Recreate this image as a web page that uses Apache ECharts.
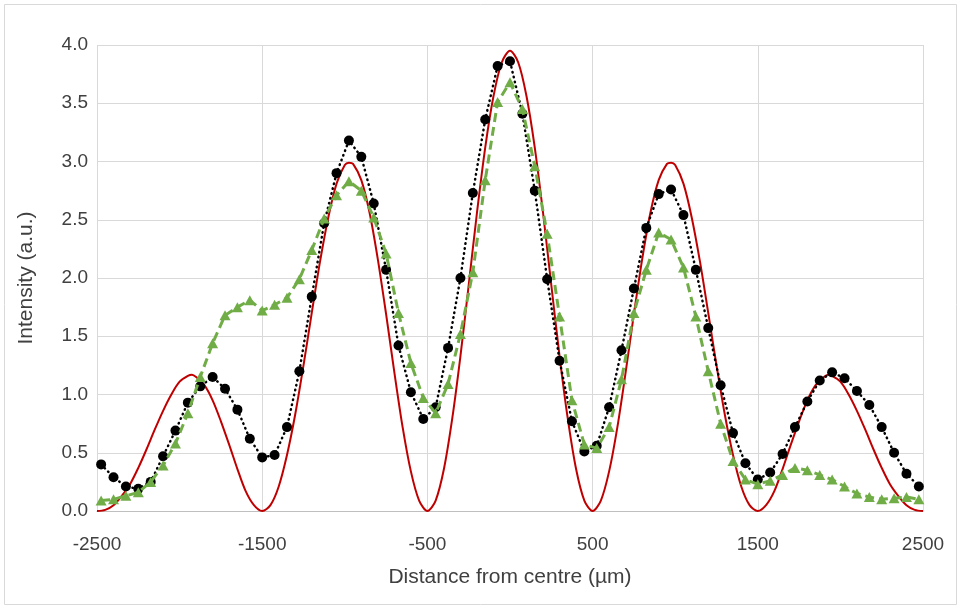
<!DOCTYPE html>
<html>
<head>
<meta charset="utf-8">
<script src="https://cdn.jsdelivr.net/npm/echarts@6/dist/echarts.min.js"></script>
<style>
html,body{margin:0;padding:0;background:#fff;}
#chart{width:961px;height:609px;}
</style>
</head>
<body>
<div id="chart"></div>
<script>
// Sample positions (µm) of the measured points
var samplePositions = [-2475,-2400,-2325,-2250,-2175,-2100,-2025,-1950,-1875,-1800,-1725,-1650,-1575,-1500,
  -1425,-1350,-1275,-1200,-1125,-1050,-975,-900,-825,-750,-675,-600,-525,
  -450,-375,-300,-225,-150,-75,0,75,150,225,300,375,450,
  525,600,675,750,825,900,975,1050,1125,1200,1275,1350,1425,
  1500,1575,1650,1725,1800,1875,1950,2025,2100,2175,2250,2325,2400,2475];

// Black dotted series (circles)
var blackValues = [0.40,0.29,0.21,0.19,0.25,0.47,0.69,0.93,1.07,1.15,1.05,0.87,0.62,0.46,
  0.48,0.72,1.20,1.84,2.47,2.90,3.18,3.04,2.64,2.07,1.42,1.02,0.79,
  0.89,1.40,2.00,2.73,3.36,3.82,3.86,3.41,2.75,1.99,1.29,0.77,0.51,
  0.56,0.89,1.38,1.91,2.43,2.72,2.76,2.54,2.07,1.57,1.08,0.67,0.41,
  0.27,0.33,0.49,0.72,0.94,1.12,1.19,1.14,1.03,0.91,0.72,0.50,0.32,0.21];

// Green dashed series (triangles)
var greenValues = [0.09,0.10,0.13,0.16,0.25,0.39,0.58,0.84,1.15,1.44,1.68,1.75,1.81,1.72,
  1.77,1.83,1.99,2.24,2.51,2.71,2.83,2.75,2.52,2.21,1.70,1.27,0.97,
  0.84,1.09,1.52,2.05,2.84,3.51,3.68,3.45,2.96,2.38,1.67,0.95,0.57,
  0.54,0.72,1.13,1.70,2.07,2.39,2.33,2.09,1.67,1.20,0.75,0.43,0.27,
  0.23,0.26,0.31,0.37,0.35,0.31,0.27,0.21,0.15,0.12,0.10,0.11,0.12,0.10];

// Red solid curve (every ~50 µm, plus the peak tops)
var redPositions = [-2500,-2450,-2400,-2350,-2300,-2250,-2200,-2150,-2100,-2050,-2000,-1950,-1925,-1900,-1850,-1800,-1750,-1700,-1650,-1600,-1550,
  -1500,-1450,-1400,-1350,-1300,-1250,-1200,-1150,-1100,-1050,-1000,-975,-950,-900,-850,-800,-750,-700,-650,-600,-550,
  -500,-450,-400,-350,-300,-250,-200,-150,-100,-50,0,50,100,150,200,250,300,350,400,450,
  500,550,600,650,700,750,800,850,900,950,975,1000,1050,1100,1150,1200,1250,1300,1350,1400,1450,
  1500,1550,1600,1650,1700,1750,1800,1850,1900,1925,1950,2000,2050,2100,2150,2200,2250,2300,2350,2400,2450,2500];
var redValues = [0.00,0.01,0.05,0.13,0.23,0.37,0.53,0.70,0.86,1.00,1.11,1.16,1.17,1.15,1.08,0.95,0.77,0.57,0.36,0.17,0.05,
  0.00,0.05,0.21,0.48,0.83,1.25,1.70,2.14,2.52,2.81,2.97,2.99,2.98,2.84,2.56,2.16,1.69,1.19,0.72,0.34,0.09,
  0.00,0.09,0.36,0.79,1.33,1.94,2.56,3.12,3.56,3.85,3.95,3.85,3.56,3.12,2.56,1.94,1.33,0.79,0.36,0.09,
  0.00,0.09,0.34,0.72,1.19,1.69,2.16,2.56,2.84,2.98,2.99,2.97,2.81,2.52,2.14,1.70,1.25,0.83,0.48,0.21,0.05,
  0.00,0.05,0.17,0.36,0.57,0.77,0.95,1.08,1.15,1.17,1.16,1.11,1.00,0.86,0.70,0.53,0.37,0.23,0.13,0.05,0.01,0.00];

var xTickStart = -2500, xTickEnd = 2500, xTickStep = 1000;
var yTickStart = 0, yTickEnd = 4, yTickStep = 0.5;

var xTitle = 'Distance from centre (µm)';
var yTitle = 'Intensity (a.u.)';

function pairs(xs, ys){ return xs.map(function(x,i){ return [x, ys[i]]; }); }

var FONT = 'Liberation Sans, Arial, sans-serif';
var TXT = '#404040';

var chart = echarts.init(document.getElementById('chart'), null, {renderer:'canvas'});
chart.setOption({
  animation:false,
  backgroundColor:'#ffffff',
  graphic:[{type:'rect', shape:{x:4.5,y:4.5,width:952,height:600}, style:{fill:'none',stroke:'#d9d9d9',lineWidth:1}, z:-1}],
  grid:{left:97,right:38,top:45,bottom:98},
  xAxis:{
    type:'value', min:xTickStart, max:xTickEnd, interval:xTickStep,
    axisLine:{show:true, onZero:false, lineStyle:{color:'#bfbfbf',width:1}},
    axisTick:{show:false},
    splitLine:{show:true, lineStyle:{color:'#d9d9d9',width:1}},
    axisLabel:{color:TXT, fontSize:19, fontFamily:FONT, margin:24, formatter:function(v){return String(v);}},
    name:xTitle, nameLocation:'middle', nameGap:56,
    nameTextStyle:{color:TXT, fontSize:21, fontFamily:FONT}
  },
  yAxis:{
    type:'value', min:yTickStart, max:yTickEnd, interval:yTickStep,
    axisLine:{show:false}, axisTick:{show:false},
    splitLine:{show:true, lineStyle:{color:'#d9d9d9',width:1}},
    axisLabel:{color:TXT, fontSize:19, fontFamily:FONT, margin:9, formatter:function(v){return v.toFixed(1);}},
    name:yTitle, nameLocation:'middle', nameGap:60, nameRotate:90,
    nameTextStyle:{color:TXT, fontSize:21, fontFamily:FONT}
  },
  series:[
    {type:'line', data:pairs(redPositions, redValues), smooth:0.3, showSymbol:false,
     lineStyle:{color:'#c00000', width:2}, z:2},
    {type:'line', data:pairs(samplePositions, blackValues), symbol:'circle', symbolSize:10,
     itemStyle:{color:'#000000'}, lineStyle:{color:'#000000', width:2.5, type:[0.5,4.5], cap:'round'}, z:3},
    {type:'line', data:pairs(samplePositions, greenValues), symbol:'triangle', symbolSize:[11,10],
     itemStyle:{color:'#70ad47'}, lineStyle:{color:'#70ad47', width:3, type:[9,5]}, z:4}
  ]
});
</script>
</body>
</html>
